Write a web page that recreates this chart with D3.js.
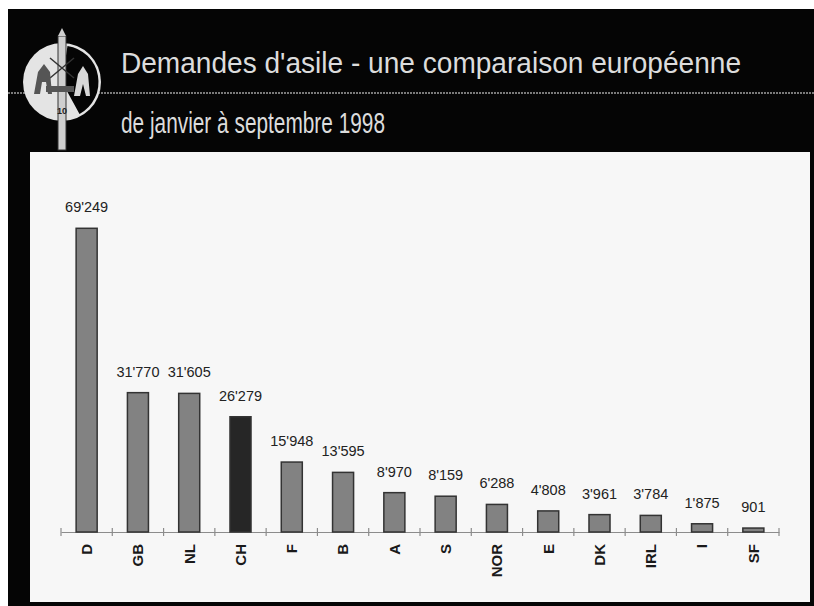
<!DOCTYPE html>
<html>
<head>
<meta charset="utf-8">
<script src="https://cdn.jsdelivr.net/npm/d3@7"></script>
<style>
  body { margin: 0; background: #fff; }
  svg { display: block; font-family: "Liberation Sans", Arial, sans-serif; }
</style>
</head>
<body>
<div id="chart"></div>
<script>
const countries = ["D", "GB", "NL", "CH", "F", "B", "A", "S", "NOR", "E", "DK", "IRL", "I", "SF"];
const demandes = [69249, 31770, 31605, 26279, 15948, 13595, 8970, 8159, 6288, 4808, 3961, 3784, 1875, 901];
const highlight = "CH";

const titre = "Demandes d'asile - une comparaison européenne";
const sousTitre = "de janvier à septembre 1998";

const width = 814, height = 606;

const svg = d3.select("#chart").append("svg")
  .attr("width", width)
  .attr("height", height);

// fond noir
svg.append("rect")
  .attr("x", 8).attr("y", 9)
  .attr("width", width - 8).attr("height", height - 9)
  .attr("fill", "#050505");

// ligne grise sous le titre
svg.append("line")
  .attr("x1", 8).attr("x2", width)
  .attr("y1", 93).attr("y2", 93)
  .attr("stroke", "#7a7a7a")
  .attr("stroke-width", 2)
  .attr("stroke-dasharray", "2,1");

// logo (simplifié)
const logo = svg.append("g").attr("transform", "translate(62,82)");
logo.append("circle").attr("r", 39).attr("fill", "#e4e4e4");
logo.append("path")
  .attr("d", d3.arc()({ innerRadius: 0, outerRadius: 36.5, startAngle: 0.15, endAngle: Math.PI - 0.5 }))
  .attr("fill", "#050505");
logo.append("rect").attr("x", -4).attr("y", -46).attr("width", 8).attr("height", 114)
  .attr("fill", "#cfcfcf").attr("stroke", "#333").attr("stroke-width", 1);
logo.append("path").attr("d", "M-4,-46 L0,-54 L4,-46 Z").attr("fill", "#cfcfcf");
logo.append("path").attr("d", "M-12,-24 L12,-4 M12,-24 L-12,-4")
  .attr("stroke", "#333").attr("stroke-width", 1.5);
logo.append("path")
  .attr("d", "M-28,12 L-24,-10 L-18,-18 L-12,-10 L-10,12 L-14,12 L-16,0 L-20,0 L-22,12 Z M-16,4 L12,4 L12,10 L-16,10 Z")
  .attr("fill", "#555");
logo.append("path")
  .attr("d", "M12,14 L16,-8 L21,-16 L26,-8 L28,14 L24,14 L21,2 L18,14 Z")
  .attr("fill", "#d8d8d8");
logo.append("text").attr("x", 0).attr("y", 32).attr("text-anchor", "middle")
  .attr("font-size", 9).attr("font-weight", "bold").attr("fill", "#222").text("10");

// titres
svg.append("text")
  .attr("x", 121).attr("y", 73)
  .attr("fill", "#dcdcdc")
  .attr("font-size", 29)
  .attr("textLength", 620)
  .attr("lengthAdjust", "spacingAndGlyphs")
  .text(titre);

svg.append("text")
  .attr("x", 121).attr("y", 133)
  .attr("fill", "#dcdcdc")
  .attr("font-size", 29)
  .attr("textLength", 264)
  .attr("lengthAdjust", "spacingAndGlyphs")
  .text(sousTitre);

// panneau blanc
svg.append("rect")
  .attr("x", 30).attr("y", 152)
  .attr("width", 780).attr("height", 450)
  .attr("fill", "#f7f7f7");

// échelles
const x = d3.scaleBand()
  .domain(countries)
  .range([61, 779])
  .paddingInner(0.59)
  .paddingOuter(0.295);

const y = d3.scaleLinear()
  .domain([0, 70000])
  .range([532, 225]);

const fmt = d3.formatLocale({ decimal: ".", thousands: "'", grouping: [3], currency: ["", ""] }).format(",d");

const data = countries.map((c, i) => ({ pays: c, valeur: demandes[i] }));

// axe
const axis = svg.append("g")
  .attr("transform", `translate(0,${y(0)})`)
  .call(d3.axisBottom(x).tickSize(0).tickPadding(12));
axis.select(".domain").attr("stroke", "#8c8c8c").attr("stroke-width", 1.2);
axis.selectAll(".tick text")
  .attr("transform", "rotate(-90)")
  .attr("text-anchor", "end")
  .attr("x", -12).attr("y", 0)
  .attr("dy", "0.36em")
  .attr("font-size", 15)
  .attr("font-weight", "bold")
  .attr("font-family", "'Liberation Sans', Arial, sans-serif")
  .attr("fill", "#1a1a1a");

// graduations entre les catégories
const bornes = d3.range(countries.length + 1).map(i => x.range()[0] + i * x.step());
axis.selectAll(".sep")
  .data(bornes)
  .join("line")
  .attr("class", "sep")
  .attr("x1", d => d).attr("x2", d => d)
  .attr("y1", -4).attr("y2", 4)
  .attr("stroke", "#8c8c8c")
  .attr("stroke-width", 1.2);

// barres
svg.append("g")
  .selectAll("rect")
  .data(data)
  .join("rect")
  .attr("x", d => x(d.pays))
  .attr("y", d => y(d.valeur))
  .attr("width", x.bandwidth())
  .attr("height", d => y(0) - y(d.valeur))
  .attr("fill", d => d.pays === highlight ? "#262626" : "#828282")
  .attr("stroke", "#333")
  .attr("stroke-width", 1.5);

// étiquettes de valeurs
svg.append("g")
  .selectAll("text")
  .data(data)
  .join("text")
  .attr("x", d => x(d.pays) + x.bandwidth() / 2)
  .attr("y", d => y(d.valeur) - 16)
  .attr("text-anchor", "middle")
  .attr("font-size", 14.5)
  .attr("fill", "#222")
  .text(d => fmt(d.valeur));
</script>
</body>
</html>
